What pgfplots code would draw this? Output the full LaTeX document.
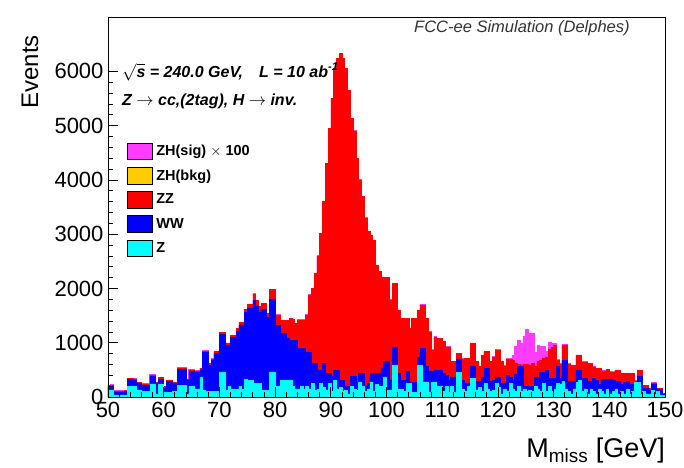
\documentclass[border=0pt]{standalone}
\usepackage{fontspec}
\setmainfont{Liberation Sans}
\usepackage{pgfplots}
\usepackage{pgfplotstable}
\pgfplotsset{compat=1.18}

\definecolor{sigcol}{RGB}{255,60,255}
\definecolor{zhbkg}{RGB}{255,204,0}
\definecolor{zzcol}{RGB}{255,0,0}
\definecolor{wwcol}{RGB}{0,0,255}
\definecolor{zcol}{RGB}{0,255,255}

% Missing-mass histogram, 0.5 GeV bins (left edges).
% Columns are the stacked levels: Z, Z+WW, Z+WW+ZZ, and the full stack with ZH(sig)x100 on top.
\pgfplotstableread{
x     Z    WW    ZZ    SIG
50.0  130  195   215   220
50.5  130  200   220   225
51.0  40   95    115   120
51.5  40   95    115   120
52.0  40   95    115   120
52.5  40   95    115   120
53.0  40   100   120   125
53.5  190  320   340   345
54.0  190  320   340   345
54.5  190  315   335   340
55.0  130  245   265   270
55.5  130  245   265   270
56.0  100  220   240   245
56.5  100  220   240   245
57.0  100  220   240   245
57.5  240  385   405   410
58.0  240  385   405   410
58.5  60   245   265   270
59.0  240  335   355   360
59.5  240  335   355   360
60.0  80   170   190   195
60.5  80   290   310   315
61.0  80   290   310   315
61.5  100  245   265   270
62.0  100  245   265   270
62.5  220  510   535   540
63.0  220  510   535   540
63.5  220  510   535   540
64.0  60   305   330   335
64.5  200  475   500   505
65.0  200  475   500   505
65.5  150  455   480   485
66.0  150  455   480   485
66.5  370  500   530   535
67.0  120  820   850   855
67.5  100  820   850   855
68.0  100  590   620   625
68.5  100  670   700   705
69.0  100  800   835   840
69.5  100  800   835   840
70.0  465  1150  1190  1195
70.5  465  1150  1190  1195
71.0  120  950   990   995
71.5  200  950   990   995
72.0  150  1100  1140  1145
72.5  150  1100  1140  1145
73.0  150  1220  1265  1270
73.5  200  1320  1370  1375
74.0  150  1320  1370  1375
74.5  330  1560  1615  1620
75.0  300  1640  1710  1715
75.5  300  1640  1710  1715
76.0  250  1780  1900  1905
76.5  250  1680  1785  1790
77.0  250  1570  1675  1680
77.5  120  1610  1725  1730
78.0  120  1610  1725  1730
78.5  120  1470  1540  1545
79.0  465  1810  1980  1985
79.5  465  1810  1980  1985
80.0  190  1320  1510  1515
80.5  190  1320  1510  1515
81.0  300  1170  1405  1410
81.5  300  1170  1405  1410
82.0  300  1080  1405  1410
82.5  300  1050  1450  1455
83.0  200  1050  1430  1435
83.5  150  1050  1355  1360
84.0  150  900   1420  1425
84.5  200  900   1420  1425
85.0  150  900   1420  1425
85.5  200  830   1510  1515
86.0  150  830   1880  1885
86.5  250  620   2000  2005
87.0  120  620   2280  2285
87.5  150  500   2600  2605
88.0  250  500   3010  3015
88.5  180  620   3600  3605
89.0  120  440   4300  4305
89.5  250  440   4950  4955
90.0  100  375   5500  5505
90.5  300  500   6050  6055
91.0  150  500   6240  6245
91.5  180  310   6330  6335
92.0  100  310   6240  6245
92.5  120  190   6050  6055
93.0  60   190   5650  5655
93.5  200  375   5130  5135
94.0  150  375   4900  4905
94.5  120  280   4400  4405
95.0  280  440   4000  4005
95.5  200  440   3690  3695
96.0  100  190   3300  3305
96.5  150  250   3050  3055
97.0  280  435   2980  2985
97.5  100  435   2890  2895
98.0  230  435   2430  2435
98.5  190  435   2310  2315
99.0  190  530   2200  2205
99.5  370  650   2200  2205
100.0 130  650   2200  2205
100.5 130  310   1790  1795
101.0 590  925   2090  2095
101.5 590  925   2090  2095
102.0 150  435   1600  1605
102.5 150  310   1450  1455
103.0 100  310   1450  1455
103.5 250  470   1450  1455
104.0 250  280   1265  1270
104.5 80   280   1450  1455
105.0 80   280   1450  1455
105.5 590  740   1600  1605
106.0 590  890   1695  1700
106.5 280  890   1695  1700
107.0 280  560   1450  1455
107.5 80   470   1200  1205
108.0 280  470   865   870
108.5 280  500   1110  1115
109.0 190  500   1080  1085
109.5 190  500   1080  1085
110.0 100  435   1020  1025
110.5 190  400   925   930
111.0 80   310   925   930
111.5 190  370   650   655
112.0 80   370   650   655
112.5 450  700   800   805
113.0 450  700   800   805
113.5 150  310   700   705
114.0 100  250   710   715
114.5 190  250   710   715
115.0 340  560   990   995
115.5 340  560   990   995
116.0 130  290   650   655
116.5 180  290   560   565
117.0 100  370   770   775
117.5 250  530   835   840
118.0 150  530   835   845
118.5 100  290   650   660
119.0 130  310   740   750
119.5 255  370   865   875
120.0 180  370   865   875
120.5 60   250   650   665
121.0 150  250   560   575
121.5 100  400   690   705
122.0 250  370   690   710
122.5 150  300   670   770
123.0 100  420   625   925
123.5 200  560   600   1050
124.0 100  560   590   990
124.5 150  200   605   1125
125.0 100  200   595   1245
125.5 120  200   590   1170
126.0 100  200   620   1170
126.5 200  370   565   815
127.0 150  370   660   960
127.5 100  450   675   925
128.0 250  450   705   925
128.5 100  500   735   835
129.0 200  340   880   1000
129.5 100  340   910   990
130.0 150  340   950   990
130.5 250  560   675   690
131.0 240  345   610   620
131.5 290  680   960   975
132.0 150  680   960   975
132.5 100  290   610   620
133.0 60   290   580   590
133.5 150  290   580   590
134.0 270  500   765   775
134.5 310  500   765   775
135.0 100  345   645   650
135.5 150  345   645   650
136.0 60   290   615   620
136.5 150  290   615   620
137.0 100  345   555   560
137.5 60   300   525   530
138.0 150  230   525   530
138.5 100  320   480   485
139.0 60   320   480   485
139.5 150  320   505   510
140.0 60   320   460   465
140.5 100  300   460   465
141.0 150  290   495   500
141.5 60   290   495   500
142.0 100  230   430   435
142.5 60   270   430   435
143.0 150  290   440   445
143.5 60   230   440   445
144.0 100  230   430   435
144.5 270  280   295   300
145.0 270  380   495   500
145.5 60   380   495   500
146.0 100  160   215   220
146.5 60   160   215   220
147.0 60   130   155   160
147.5 120  230   260   265
148.0 60   230   260   265
148.5 100  150   155   160
149.0 40   150   155   160
149.5 30   60    68    70
150.0 30   60    68    70
}\hist

\begin{document}
\begin{tikzpicture}
\useasboundingbox (-108pt,-70pt) rectangle (576pt,397pt);
\begin{axis}[
  at={(0pt,0pt)}, anchor=south west,
  scale only axis, width=557pt, height=380pt,
  xmin=50, xmax=150, ymin=0, ymax=7000,
  axis on top,
  xtick={50,60,...,150}, ytick={0,1000,...,6000},
  minor x tick num=4, minor y tick num=4,
  tick align=inside, tick pos=left,
  major tick length=10pt, minor tick length=5pt,
  tick style={black, line width=0.7pt},
  axis line style={line width=0.9pt},
  ticklabel style={font=\fontsize{22}{24}\selectfont},
  xticklabel style={yshift=-2pt},
  yticklabel style={xshift=-1pt},
  /pgf/number format/assume math mode=true,
  /pgf/number format/1000 sep={},
  scaled y ticks=false,
  every axis y label/.style={at={(axis description cs:-0.140,0.953)}, rotate=90, anchor=east, inner sep=0pt, font=\fontsize{24}{26}\selectfont},
  every axis x label/.style={at={(axis description cs:1,-0.158)}, anchor=base east, inner sep=0pt, font=\fontsize{27}{29}\selectfont},
  ylabel={Events},
  xlabel={M\textsubscript{miss} [GeV]},
  legend image code/.code={\fill[#1] (0pt,-8.25pt) rectangle (25pt,8.25pt);},
  legend cell align=left,
  legend style={at={(axis description cs:0.0336,0.669)}, anchor=north west, draw=none, fill=none,
    inner sep=0pt, row sep=7.25pt, column sep=4pt,
    nodes={inner sep=0pt}, font=\bfseries\fontsize{14.5}{16}\selectfont},
]
\addplot[const plot, fill=sigcol, draw=sigcol, line width=0.6pt, forget plot] table[x=x, y=SIG] {\hist} \closedcycle;
\addplot[const plot, fill=zzcol, draw=zzcol, line width=0.5pt, forget plot] table[x=x, y=ZZ] {\hist} \closedcycle;
\addplot[const plot, fill=wwcol, draw=wwcol, line width=0.5pt, forget plot] table[x=x, y=WW] {\hist} \closedcycle;
\addplot[const plot, fill=zcol, draw=zcol, line width=0.5pt, forget plot] table[x=x, y=Z] {\hist} \closedcycle;

\addlegendimage{fill=sigcol}
\addlegendimage{fill=zhbkg}
\addlegendimage{fill=zzcol}
\addlegendimage{fill=wwcol}
\addlegendimage{fill=zcol}
\legend{ZH(sig) $\times$ 100, ZH(bkg), ZZ, WW, Z}

\node[anchor=base east, inner sep=0pt, text=black!80, font=\itshape\fontsize{16.5}{18}\selectfont]
  at (axis description cs:0.937,0.958) {FCC-ee Simulation (Delphes)};
\node[anchor=base west, inner sep=0pt, font=\bfseries\itshape\fontsize{16}{18}\selectfont]
  at (axis description cs:0.0251,0.842) {$\sqrt{\mbox{s}}$ = 240.0 GeV,\quad L = 10 ab\textsuperscript{-1}};
\node[anchor=base west, inner sep=0pt, font=\bfseries\itshape\fontsize{16}{18}\selectfont]
  at (axis description cs:0.0251,0.768) {Z $\rightarrow$ cc,(2tag), H $\rightarrow$ inv.};
\end{axis}
\end{tikzpicture}
\end{document}
